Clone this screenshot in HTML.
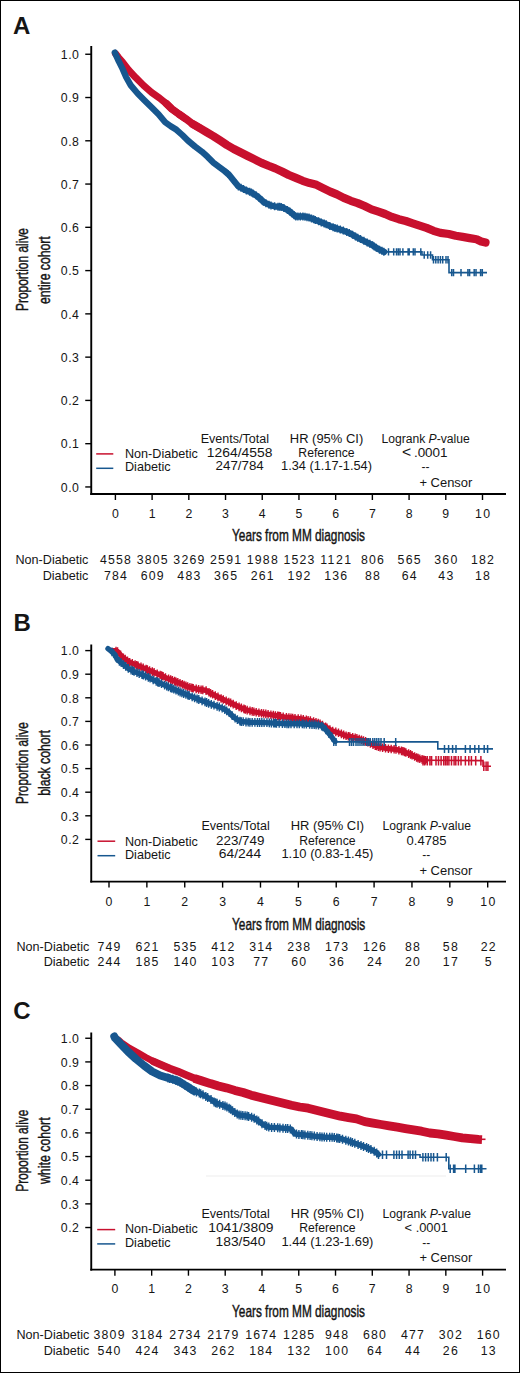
<!DOCTYPE html>
<html><head><meta charset="utf-8"><style>
html,body{margin:0;padding:0;background:#fff;}
body{width:520px;height:1373px;overflow:hidden;position:relative;}
#frame{position:absolute;left:0;top:0;width:520px;height:1373px;box-sizing:border-box;border:1.5px solid #000;}
svg{position:absolute;left:0;top:0;}
svg text{font-family:"Liberation Sans", sans-serif;fill:#151515;}
</style></head><body>
<svg width="520" height="1373" viewBox="0 0 520 1373">
<text x="13.00" y="33.80" font-size="24" font-weight="bold">A</text>
<line x1="91.25" y1="46.00" x2="91.25" y2="494.90" stroke="#000" stroke-width="1.9"/>
<line x1="90.30" y1="494.00" x2="506.00" y2="494.00" stroke="#000" stroke-width="1.8"/>
<line x1="85.25" y1="54.25" x2="91.25" y2="54.25" stroke="#000" stroke-width="1.4"/>
<text x="78.90" y="59.05" font-size="12.3" text-anchor="end" textLength="18.10" lengthAdjust="spacing">1.0</text>
<line x1="85.25" y1="97.52" x2="91.25" y2="97.52" stroke="#000" stroke-width="1.4"/>
<text x="78.90" y="102.32" font-size="12.3" text-anchor="end" textLength="18.10" lengthAdjust="spacing">0.9</text>
<line x1="85.25" y1="140.79" x2="91.25" y2="140.79" stroke="#000" stroke-width="1.4"/>
<text x="78.90" y="145.59" font-size="12.3" text-anchor="end" textLength="18.10" lengthAdjust="spacing">0.8</text>
<line x1="85.25" y1="184.06" x2="91.25" y2="184.06" stroke="#000" stroke-width="1.4"/>
<text x="78.90" y="188.86" font-size="12.3" text-anchor="end" textLength="18.10" lengthAdjust="spacing">0.7</text>
<line x1="85.25" y1="227.33" x2="91.25" y2="227.33" stroke="#000" stroke-width="1.4"/>
<text x="78.90" y="232.13" font-size="12.3" text-anchor="end" textLength="18.10" lengthAdjust="spacing">0.6</text>
<line x1="85.25" y1="270.60" x2="91.25" y2="270.60" stroke="#000" stroke-width="1.4"/>
<text x="78.90" y="275.40" font-size="12.3" text-anchor="end" textLength="18.10" lengthAdjust="spacing">0.5</text>
<line x1="85.25" y1="313.87" x2="91.25" y2="313.87" stroke="#000" stroke-width="1.4"/>
<text x="78.90" y="318.67" font-size="12.3" text-anchor="end" textLength="18.10" lengthAdjust="spacing">0.4</text>
<line x1="85.25" y1="357.14" x2="91.25" y2="357.14" stroke="#000" stroke-width="1.4"/>
<text x="78.90" y="361.94" font-size="12.3" text-anchor="end" textLength="18.10" lengthAdjust="spacing">0.3</text>
<line x1="85.25" y1="400.41" x2="91.25" y2="400.41" stroke="#000" stroke-width="1.4"/>
<text x="78.90" y="405.21" font-size="12.3" text-anchor="end" textLength="18.10" lengthAdjust="spacing">0.2</text>
<line x1="85.25" y1="443.68" x2="91.25" y2="443.68" stroke="#000" stroke-width="1.4"/>
<text x="78.90" y="448.48" font-size="12.3" text-anchor="end" textLength="18.10" lengthAdjust="spacing">0.1</text>
<line x1="85.25" y1="486.95" x2="91.25" y2="486.95" stroke="#000" stroke-width="1.4"/>
<text x="78.90" y="491.75" font-size="12.3" text-anchor="end" textLength="18.10" lengthAdjust="spacing">0.0</text>
<line x1="115.40" y1="494.00" x2="115.40" y2="500.00" stroke="#000" stroke-width="1.4"/>
<text x="115.40" y="517.60" font-size="12.3" text-anchor="middle">0</text>
<line x1="152.11" y1="494.00" x2="152.11" y2="500.00" stroke="#000" stroke-width="1.4"/>
<text x="152.11" y="517.60" font-size="12.3" text-anchor="middle">1</text>
<line x1="188.82" y1="494.00" x2="188.82" y2="500.00" stroke="#000" stroke-width="1.4"/>
<text x="188.82" y="517.60" font-size="12.3" text-anchor="middle">2</text>
<line x1="225.53" y1="494.00" x2="225.53" y2="500.00" stroke="#000" stroke-width="1.4"/>
<text x="225.53" y="517.60" font-size="12.3" text-anchor="middle">3</text>
<line x1="262.24" y1="494.00" x2="262.24" y2="500.00" stroke="#000" stroke-width="1.4"/>
<text x="262.24" y="517.60" font-size="12.3" text-anchor="middle">4</text>
<line x1="298.95" y1="494.00" x2="298.95" y2="500.00" stroke="#000" stroke-width="1.4"/>
<text x="298.95" y="517.60" font-size="12.3" text-anchor="middle">5</text>
<line x1="335.66" y1="494.00" x2="335.66" y2="500.00" stroke="#000" stroke-width="1.4"/>
<text x="335.66" y="517.60" font-size="12.3" text-anchor="middle">6</text>
<line x1="372.37" y1="494.00" x2="372.37" y2="500.00" stroke="#000" stroke-width="1.4"/>
<text x="372.37" y="517.60" font-size="12.3" text-anchor="middle">7</text>
<line x1="409.08" y1="494.00" x2="409.08" y2="500.00" stroke="#000" stroke-width="1.4"/>
<text x="409.08" y="517.60" font-size="12.3" text-anchor="middle">8</text>
<line x1="445.79" y1="494.00" x2="445.79" y2="500.00" stroke="#000" stroke-width="1.4"/>
<text x="445.79" y="517.60" font-size="12.3" text-anchor="middle">9</text>
<line x1="482.50" y1="494.00" x2="482.50" y2="500.00" stroke="#000" stroke-width="1.4"/>
<text x="482.50" y="517.60" font-size="12.3" text-anchor="middle" textLength="15.08" lengthAdjust="spacing">10</text>
<text x="232.00" y="541.30" font-size="17" textLength="133.00" lengthAdjust="spacingAndGlyphs" stroke="#151515" stroke-width="0.45">Years from MM diagnosis</text>
<text transform="translate(28.30,269.50) rotate(-90)" x="0" y="0" font-size="17" text-anchor="middle" textLength="83.00" lengthAdjust="spacingAndGlyphs" stroke="#151515" stroke-width="0.45">Proportion alive</text>
<text transform="translate(50.40,270.20) rotate(-90)" x="0" y="0" font-size="17" text-anchor="middle" textLength="67.60" lengthAdjust="spacingAndGlyphs" stroke="#151515" stroke-width="0.45">entire cohort</text>
<polyline points="115.4,53.5 118.5,57.5 122.7,62.3 128.5,69.8 135.4,77.3 143.5,85.4 151.5,92.3 159.6,98.1 166.5,103.8 171.9,109.0 178.8,114.0 185.8,118.8" fill="none" stroke="#c8102e" stroke-width="7.0" stroke-linejoin="round" stroke-linecap="round"/>
<polyline points="166.5,103.8 171.9,109.0 178.8,114.0 185.8,118.8 192.7,124.0 199.6,128.1" fill="none" stroke="#c8102e" stroke-width="7.6" stroke-linejoin="round" stroke-linecap="round"/>
<polyline points="192.7,124.0 199.6,128.1 206.5,132.1 213.5,136.2 220.2,140.5 226.9,145.0 233.8,149.0 240.8,152.5 247.7,156.0 254.6,159.4 261.5,162.9 268.5,165.8 275.2,168.4 281.9,171.5 288.8,175.0 295.8,177.9 302.7,180.8 309.6,183.1 316.5,184.8 323.5,188.3 330.2,191.6 336.9,194.4 343.8,197.9 350.8,200.8 357.7,203.1 364.6,206.0 371.5,209.4 378.5,211.7 385.2,214.0 391.9,216.9 398.8,219.2 405.8,221.0 412.7,223.3 419.6,225.6 426.5,227.9 433.5,230.8 440.4,232.9 448.8,234.0 455.8,235.8 462.7,236.9 469.6,238.1 476.5,239.2 481.2,241.5 485.5,242.5" fill="none" stroke="#c8102e" stroke-width="8.2" stroke-linejoin="round" stroke-linecap="round"/>
<polyline points="114.8,52.5 118.7,61.2 122.7,69.2 126.2,77.3 130.8,85.4 137.7,93.5 144.6,100.4 151.5,107.3 158.5,114.2 165.2,122.3 170.8,126.3 176.5,129.8 182.3,135.0 188.1,140.8 195.0,146.5 201.9,151.7 207.7,156.9 213.5,162.7 220.2,167.7 224.6,171.0 229.2,175.0 233.8,180.8 238.5,186.5 245.4,190.0 252.3,192.9 258.1,196.9 263.8,202.1 269.6,205.0 276.0,206.7 281.9,206.9 288.8,210.8 295.8,216.5 303.8,216.5 309.6,217.7 315.4,220.0 321.2,222.3 326.9,224.6 331.5,226.8 336.9,228.5 343.8,230.8 350.8,233.7 357.7,237.7 364.6,241.2 371.5,244.6 378.5,249.2 384.2,251.9" fill="none" stroke="#17578f" stroke-width="6.3" stroke-linejoin="round" stroke-linecap="round"/>
<path d="M228.0 170.0V178.0M229.8 171.8V179.8M233.2 176.0V184.0M236.3 179.8V187.8M238.4 182.4V190.4M241.0 183.8V191.8M243.5 185.0V193.0M246.4 186.4V194.4M249.6 187.8V195.8M251.4 188.5V196.5M253.0 189.4V197.4M256.3 191.6V199.6M258.7 193.5V201.5M261.9 196.3V204.3M263.4 197.8V205.8M265.9 199.2V207.2M269.0 200.7V208.7M271.0 201.4V209.4M274.6 202.3V210.3M278.0 202.8V210.8M279.6 202.8V210.8M281.2 202.9V210.9M283.9 204.0V212.0M287.4 206.0V214.0M289.8 207.6V215.6M291.8 209.2V217.2M294.2 211.2V219.2M295.8 212.5V220.5M297.9 212.5V220.5M300.3 212.5V220.5M302.9 212.5V220.5M305.0 212.7V220.7M307.0 213.2V221.2M309.0 213.6V221.6M311.5 214.5V222.5M313.7 215.3V223.3M315.3 216.0V224.0M318.6 217.3V225.3M321.3 218.4V226.4M324.2 219.5V227.5M326.2 220.3V228.3M329.8 222.0V230.0M333.1 223.3V231.3M335.0 223.9V231.9M337.2 224.6V232.6M340.3 225.6V233.6M343.3 226.6V234.6M346.8 228.1V236.1M349.3 229.1V237.1M352.5 230.7V238.7M355.5 232.4V240.4M357.7 233.7V241.7M360.5 235.1V243.1M363.9 236.8V244.8M367.2 238.5V246.5M369.8 239.8V247.8M372.6 241.3V249.3M374.2 242.4V250.4M376.3 243.7V251.7M379.5 245.7V253.7M381.9 246.8V254.8M383.8 247.7V255.7" stroke="#17578f" stroke-width="1.4" fill="none"/>
<polyline points="384.2,251.9 422.0,251.9 422.0,255.0 432.5,255.0 432.5,259.8 449.0,259.8 449.0,272.6 487.0,272.6" fill="none" stroke="#17578f" stroke-width="1.6" stroke-linejoin="miter" stroke-linecap="butt"/>
<path d="M388.5 248.2V255.6M393.7 248.2V255.6M396.5 248.2V255.6M398.3 248.2V255.6M400.0 248.2V255.6M402.9 248.2V255.6M408.1 248.2V255.6M409.2 248.2V255.6M413.3 248.2V255.6M415.0 248.2V255.6M420.8 248.2V255.6M424.2 251.3V258.7M427.7 251.3V258.7M430.6 251.3V258.7M433.5 256.1V263.5M435.8 256.1V263.5M438.1 256.1V263.5M440.4 256.1V263.5M442.7 256.1V263.5M446.0 256.1V263.5M448.0 256.1V263.5M451.7 268.9V276.3M453.5 268.9V276.3M461.0 268.9V276.3M467.9 268.9V276.3M469.6 268.9V276.3M474.2 268.9V276.3M476.0 268.9V276.3M480.6 268.9V276.3M482.3 268.9V276.3" stroke="#17578f" stroke-width="1.5" fill="none"/>
<line x1="96.20" y1="453.90" x2="113.30" y2="453.90" stroke="#c8102e" stroke-width="1.5"/>
<line x1="96.20" y1="468.30" x2="113.30" y2="468.30" stroke="#17578f" stroke-width="1.5"/>
<text x="125.00" y="458.00" font-size="12.4" textLength="72.80" lengthAdjust="spacingAndGlyphs">Non-Diabetic</text>
<text x="125.00" y="471.20" font-size="12.4" textLength="45.60" lengthAdjust="spacingAndGlyphs">Diabetic</text>
<text x="234.80" y="443.00" font-size="12" text-anchor="middle" textLength="68.30" lengthAdjust="spacingAndGlyphs">Events/Total</text>
<text x="239.60" y="456.60" font-size="12" text-anchor="middle" textLength="65.50" lengthAdjust="spacingAndGlyphs">1264/4558</text>
<text x="239.70" y="470.20" font-size="12" text-anchor="middle" textLength="48.20" lengthAdjust="spacingAndGlyphs">247/784</text>
<text x="326.50" y="443.00" font-size="12" text-anchor="middle" textLength="73.40" lengthAdjust="spacingAndGlyphs">HR (95% CI)</text>
<text x="326.50" y="456.60" font-size="12" text-anchor="middle" textLength="56.30" lengthAdjust="spacingAndGlyphs">Reference</text>
<text x="326.50" y="470.20" font-size="12" text-anchor="middle" textLength="90.90" lengthAdjust="spacingAndGlyphs">1.34 (1.17-1.54)</text>
<text x="425.60" y="442.60" font-size="12" text-anchor="middle" textLength="88.40" lengthAdjust="spacingAndGlyphs">Logrank <tspan font-style="italic">P</tspan>-value</text>
<text x="424.80" y="456.60" font-size="12" text-anchor="middle" textLength="45.50" lengthAdjust="spacingAndGlyphs"><tspan font-size="14">&lt;</tspan>&#8201;.0001</text>
<text x="425.40" y="471.20" font-size="12" text-anchor="middle">--</text>
<text x="445.90" y="486.90" font-size="12" text-anchor="middle" textLength="53.00" lengthAdjust="spacingAndGlyphs">+ Censor</text>
<text x="88.30" y="563.60" font-size="12.4" text-anchor="end" textLength="72.80" lengthAdjust="spacingAndGlyphs">Non-Diabetic</text>
<text x="88.30" y="580.20" font-size="12.4" text-anchor="end" textLength="45.60" lengthAdjust="spacingAndGlyphs">Diabetic</text>
<text x="115.40" y="563.60" font-size="12.3" text-anchor="middle" textLength="30.96" lengthAdjust="spacing">4558</text>
<text x="115.40" y="580.20" font-size="12.3" text-anchor="middle" textLength="22.92" lengthAdjust="spacing">784</text>
<text x="152.11" y="563.60" font-size="12.3" text-anchor="middle" textLength="30.96" lengthAdjust="spacing">3805</text>
<text x="152.11" y="580.20" font-size="12.3" text-anchor="middle" textLength="22.92" lengthAdjust="spacing">609</text>
<text x="188.82" y="563.60" font-size="12.3" text-anchor="middle" textLength="30.96" lengthAdjust="spacing">3269</text>
<text x="188.82" y="580.20" font-size="12.3" text-anchor="middle" textLength="22.92" lengthAdjust="spacing">483</text>
<text x="225.53" y="563.60" font-size="12.3" text-anchor="middle" textLength="30.96" lengthAdjust="spacing">2591</text>
<text x="225.53" y="580.20" font-size="12.3" text-anchor="middle" textLength="22.92" lengthAdjust="spacing">365</text>
<text x="262.24" y="563.60" font-size="12.3" text-anchor="middle" textLength="30.96" lengthAdjust="spacing">1988</text>
<text x="262.24" y="580.20" font-size="12.3" text-anchor="middle" textLength="22.92" lengthAdjust="spacing">261</text>
<text x="298.95" y="563.60" font-size="12.3" text-anchor="middle" textLength="30.96" lengthAdjust="spacing">1523</text>
<text x="298.95" y="580.20" font-size="12.3" text-anchor="middle" textLength="22.92" lengthAdjust="spacing">192</text>
<text x="335.66" y="563.60" font-size="12.3" text-anchor="middle" textLength="30.96" lengthAdjust="spacing">1121</text>
<text x="335.66" y="580.20" font-size="12.3" text-anchor="middle" textLength="22.92" lengthAdjust="spacing">136</text>
<text x="372.37" y="563.60" font-size="12.3" text-anchor="middle" textLength="22.92" lengthAdjust="spacing">806</text>
<text x="372.37" y="580.20" font-size="12.3" text-anchor="middle" textLength="14.88" lengthAdjust="spacing">88</text>
<text x="409.08" y="563.60" font-size="12.3" text-anchor="middle" textLength="22.92" lengthAdjust="spacing">565</text>
<text x="409.08" y="580.20" font-size="12.3" text-anchor="middle" textLength="14.88" lengthAdjust="spacing">64</text>
<text x="445.79" y="563.60" font-size="12.3" text-anchor="middle" textLength="22.92" lengthAdjust="spacing">360</text>
<text x="445.79" y="580.20" font-size="12.3" text-anchor="middle" textLength="14.88" lengthAdjust="spacing">43</text>
<text x="482.50" y="563.60" font-size="12.3" text-anchor="middle" textLength="22.92" lengthAdjust="spacing">182</text>
<text x="482.50" y="580.20" font-size="12.3" text-anchor="middle" textLength="14.88" lengthAdjust="spacing">18</text>
<text x="13.60" y="631.30" font-size="24" font-weight="bold">B</text>
<line x1="91.25" y1="644.50" x2="91.25" y2="882.50" stroke="#000" stroke-width="1.9"/>
<line x1="90.30" y1="881.60" x2="506.00" y2="881.60" stroke="#000" stroke-width="1.8"/>
<line x1="85.25" y1="650.60" x2="91.25" y2="650.60" stroke="#000" stroke-width="1.4"/>
<text x="78.90" y="655.40" font-size="12.3" text-anchor="end" textLength="18.10" lengthAdjust="spacing">1.0</text>
<line x1="85.25" y1="674.20" x2="91.25" y2="674.20" stroke="#000" stroke-width="1.4"/>
<text x="78.90" y="679.00" font-size="12.3" text-anchor="end" textLength="18.10" lengthAdjust="spacing">0.9</text>
<line x1="85.25" y1="697.80" x2="91.25" y2="697.80" stroke="#000" stroke-width="1.4"/>
<text x="78.90" y="702.60" font-size="12.3" text-anchor="end" textLength="18.10" lengthAdjust="spacing">0.8</text>
<line x1="85.25" y1="721.40" x2="91.25" y2="721.40" stroke="#000" stroke-width="1.4"/>
<text x="78.90" y="726.20" font-size="12.3" text-anchor="end" textLength="18.10" lengthAdjust="spacing">0.7</text>
<line x1="85.25" y1="745.00" x2="91.25" y2="745.00" stroke="#000" stroke-width="1.4"/>
<text x="78.90" y="749.80" font-size="12.3" text-anchor="end" textLength="18.10" lengthAdjust="spacing">0.6</text>
<line x1="85.25" y1="768.60" x2="91.25" y2="768.60" stroke="#000" stroke-width="1.4"/>
<text x="78.90" y="773.40" font-size="12.3" text-anchor="end" textLength="18.10" lengthAdjust="spacing">0.5</text>
<line x1="85.25" y1="792.20" x2="91.25" y2="792.20" stroke="#000" stroke-width="1.4"/>
<text x="78.90" y="797.00" font-size="12.3" text-anchor="end" textLength="18.10" lengthAdjust="spacing">0.4</text>
<line x1="85.25" y1="815.80" x2="91.25" y2="815.80" stroke="#000" stroke-width="1.4"/>
<text x="78.90" y="820.60" font-size="12.3" text-anchor="end" textLength="18.10" lengthAdjust="spacing">0.3</text>
<line x1="85.25" y1="839.40" x2="91.25" y2="839.40" stroke="#000" stroke-width="1.4"/>
<text x="78.90" y="844.20" font-size="12.3" text-anchor="end" textLength="18.10" lengthAdjust="spacing">0.2</text>
<line x1="109.00" y1="881.60" x2="109.00" y2="887.60" stroke="#000" stroke-width="1.4"/>
<text x="109.00" y="905.60" font-size="12.3" text-anchor="middle">0</text>
<line x1="146.87" y1="881.60" x2="146.87" y2="887.60" stroke="#000" stroke-width="1.4"/>
<text x="146.87" y="905.60" font-size="12.3" text-anchor="middle">1</text>
<line x1="184.74" y1="881.60" x2="184.74" y2="887.60" stroke="#000" stroke-width="1.4"/>
<text x="184.74" y="905.60" font-size="12.3" text-anchor="middle">2</text>
<line x1="222.61" y1="881.60" x2="222.61" y2="887.60" stroke="#000" stroke-width="1.4"/>
<text x="222.61" y="905.60" font-size="12.3" text-anchor="middle">3</text>
<line x1="260.48" y1="881.60" x2="260.48" y2="887.60" stroke="#000" stroke-width="1.4"/>
<text x="260.48" y="905.60" font-size="12.3" text-anchor="middle">4</text>
<line x1="298.35" y1="881.60" x2="298.35" y2="887.60" stroke="#000" stroke-width="1.4"/>
<text x="298.35" y="905.60" font-size="12.3" text-anchor="middle">5</text>
<line x1="336.22" y1="881.60" x2="336.22" y2="887.60" stroke="#000" stroke-width="1.4"/>
<text x="336.22" y="905.60" font-size="12.3" text-anchor="middle">6</text>
<line x1="374.09" y1="881.60" x2="374.09" y2="887.60" stroke="#000" stroke-width="1.4"/>
<text x="374.09" y="905.60" font-size="12.3" text-anchor="middle">7</text>
<line x1="411.96" y1="881.60" x2="411.96" y2="887.60" stroke="#000" stroke-width="1.4"/>
<text x="411.96" y="905.60" font-size="12.3" text-anchor="middle">8</text>
<line x1="449.83" y1="881.60" x2="449.83" y2="887.60" stroke="#000" stroke-width="1.4"/>
<text x="449.83" y="905.60" font-size="12.3" text-anchor="middle">9</text>
<line x1="487.70" y1="881.60" x2="487.70" y2="887.60" stroke="#000" stroke-width="1.4"/>
<text x="487.70" y="905.60" font-size="12.3" text-anchor="middle" textLength="15.08" lengthAdjust="spacing">10</text>
<text x="232.00" y="929.60" font-size="17" textLength="133.30" lengthAdjust="spacingAndGlyphs" stroke="#151515" stroke-width="0.45">Years from MM diagnosis</text>
<text transform="translate(28.30,763.10) rotate(-90)" x="0" y="0" font-size="17" text-anchor="middle" textLength="81.60" lengthAdjust="spacingAndGlyphs" stroke="#151515" stroke-width="0.45">Proportion alive</text>
<text transform="translate(50.40,762.90) rotate(-90)" x="0" y="0" font-size="17" text-anchor="middle" textLength="65.70" lengthAdjust="spacingAndGlyphs" stroke="#151515" stroke-width="0.45">black cohort</text>
<polyline points="111.0,650.6 115.0,650.6 117.5,651.5 122.9,657.5 129.6,662.2 137.7,665.6 145.8,668.9 153.8,672.3 161.9,675.7 167.0,678.3 173.1,680.5 181.2,683.8 189.2,687.2 197.3,689.2 205.4,690.2 210.8,693.3 216.1,696.0 224.2,700.0 231.0,703.0 238.1,706.5 246.2,709.9 254.2,711.9 262.3,713.3 270.4,714.6 278.5,716.0 286.5,717.3 294.8,718.2 303.1,719.2 311.2,720.8 319.2,723.3 326.0,727.0 331.3,730.5 339.0,733.0 346.1,735.8 352.0,737.0 358.8,738.8 368.5,742.5 375.0,745.5 381.9,747.7 388.8,748.8 395.8,749.4 402.7,751.2 409.6,754.0 416.5,757.5 421.2,759.2 426.0,760.3" fill="none" stroke="#c8102e" stroke-width="5.4" stroke-linejoin="round" stroke-linecap="round"/>
<path d="M116.0 646.7V655.3M117.6 647.3V655.9M120.6 650.6V659.2M123.4 653.5V662.1M125.2 654.8V663.4M127.5 656.4V665.0M129.7 657.9V666.5M132.3 659.0V667.6M135.1 660.2V668.8M136.7 660.9V669.5M138.1 661.5V670.1M141.0 662.6V671.2M143.2 663.5V672.1M146.0 664.7V673.3M147.4 665.3V673.9M149.6 666.2V674.8M152.3 667.3V675.9M154.1 668.1V676.7M157.2 669.4V678.0M160.2 670.7V679.3M161.7 671.3V679.9M163.1 672.0V680.6M165.5 673.2V681.8M168.6 674.6V683.2M170.7 675.3V683.9M172.4 676.0V684.6M174.6 676.8V685.4M176.0 677.4V686.0M177.8 678.1V686.7M180.0 679.0V687.6M182.3 680.0V688.6M184.1 680.7V689.3M185.9 681.5V690.1M187.7 682.3V690.9M189.9 683.1V691.7M191.8 683.5V692.1M193.2 683.9V692.5M196.2 684.6V693.2M198.6 685.1V693.7M201.1 685.4V694.0M202.8 685.6V694.2M206.1 686.3V694.9M209.0 688.0V696.6M210.6 688.9V697.5M212.6 689.9V698.5M215.3 691.3V699.9M218.0 692.6V701.2M221.1 694.2V702.8M223.3 695.2V703.8M226.2 696.6V705.2M228.8 697.7V706.3M230.7 698.6V707.2M233.2 699.8V708.4M236.2 701.3V709.9M239.1 702.6V711.2M241.4 703.6V712.2M243.9 704.6V713.2M245.3 705.2V713.8M247.2 705.8V714.4M250.0 706.6V715.2M252.2 707.1V715.7M253.9 707.5V716.1M256.2 708.0V716.6M258.9 708.4V717.0M261.5 708.9V717.5M263.6 709.2V717.8M265.8 709.6V718.2M268.1 709.9V718.5M270.9 710.4V719.0M273.3 710.8V719.4M275.4 711.2V719.8M277.7 711.6V720.2M279.1 711.8V720.4M280.5 712.0V720.6M283.2 712.5V721.1M286.4 713.0V721.6M288.9 713.3V721.9M291.0 713.5V722.1M292.7 713.7V722.3M295.0 713.9V722.5M298.2 714.3V722.9M301.0 714.6V723.2M303.3 714.9V723.5M306.3 715.5V724.1M308.1 715.9V724.5M310.4 716.3V724.9M313.6 717.2V725.8M316.0 718.0V726.6M318.2 718.7V727.3M320.1 719.5V728.1M322.5 720.8V729.4M325.6 722.5V731.1M327.0 723.4V732.0M329.9 725.2V733.8M332.7 726.7V735.3M335.8 727.6V736.2M338.5 728.5V737.1M341.4 729.6V738.2M343.7 730.6V739.2M346.1 731.5V740.1M348.3 731.9V740.5M349.8 732.2V740.8M352.7 732.9V741.5M355.2 733.5V742.1M356.9 734.0V742.6M359.2 734.7V743.3M361.5 735.5V744.1M363.5 736.3V744.9M365.6 737.1V745.7M367.9 738.0V746.6M370.4 739.1V747.7M373.0 740.3V748.9M375.2 741.3V749.9M376.6 741.7V750.3M378.4 742.3V750.9M380.1 742.8V751.4M382.6 743.5V752.1M385.5 744.0V752.6M388.4 744.4V753.0M391.2 744.7V753.3M394.1 745.0V753.6M396.0 745.1V753.7M398.9 745.9V754.5M401.5 746.6V755.2M403.0 747.0V755.6M404.5 747.6V756.2M405.9 748.2V756.8M408.6 749.3V757.9M410.5 750.1V758.7M412.1 750.9V759.5M414.6 752.2V760.8M416.6 753.2V761.8M418.1 753.8V762.4M419.8 754.4V763.0M422.1 755.1V763.7M423.8 755.5V764.1M425.7 755.9V764.5" stroke="#c8102e" stroke-width="1.4" fill="none"/>
<polyline points="426.0,760.3 483.0,760.6 483.0,766.2 491.0,766.2" fill="none" stroke="#c8102e" stroke-width="1.6" stroke-linejoin="miter" stroke-linecap="butt"/>
<path d="M423.0 755.9V765.4M424.7 755.9V765.4M427.3 755.9V765.4M429.9 755.9V765.4M431.6 755.9V765.4M436.0 755.9V765.4M438.5 755.9V765.4M441.1 755.9V765.4M443.7 755.9V765.4M445.5 755.9V765.4M447.2 755.9V765.4M448.9 755.9V765.4M451.5 755.9V765.4M454.1 755.9V765.4M455.8 755.9V765.4M458.4 755.9V765.4M461.0 755.9V765.4M465.4 755.9V765.4M468.8 755.9V765.4M471.4 755.9V765.4M475.7 755.9V765.4M480.9 755.9V765.4M483.8 761.5V771.0M486.1 761.5V771.0M487.9 761.5V771.0" stroke="#c8102e" stroke-width="1.5" fill="none"/>
<polyline points="108.0,648.6 111.0,651.0 114.8,654.5 117.3,659.6 123.0,664.2 128.8,668.8 134.6,671.7 146.2,676.3 157.7,682.0 170.0,687.5 180.0,692.0 190.0,696.0 200.0,700.0 210.0,703.8 222.0,708.0 228.0,711.5 234.0,717.5 240.4,721.5 250.0,722.3 265.0,722.6 286.0,723.8 300.0,723.8 311.2,724.5 319.2,725.0 323.5,727.0 326.0,730.0 331.0,736.0 335.0,741.5" fill="none" stroke="#17578f" stroke-width="5.4" stroke-linejoin="round" stroke-linecap="round"/>
<path d="M112.0 647.5V656.3M113.6 649.0V657.8M116.6 653.7V662.5M119.4 656.9V665.7M121.2 658.3V667.1M123.5 660.2V669.0M125.7 661.9V670.7M128.3 664.0V672.8M131.1 665.6V674.4M132.7 666.3V675.1M134.1 667.0V675.8M137.0 668.3V677.1M139.2 669.1V677.9M142.0 670.2V679.0M143.4 670.8V679.6M145.6 671.6V680.4M148.3 672.9V681.7M150.1 673.8V682.6M153.2 675.4V684.2M156.2 676.9V685.7M157.7 677.6V686.4M159.1 678.2V687.0M161.5 679.3V688.1M164.6 680.7V689.5M166.7 681.6V690.4M168.4 682.4V691.2M170.6 683.4V692.2M172.0 684.0V692.8M173.8 684.8V693.6M176.0 685.8V694.6M178.3 686.8V695.6M180.1 687.6V696.4M181.9 688.4V697.2M183.7 689.1V697.9M185.9 690.0V698.8M187.8 690.7V699.5M189.2 691.3V700.1M192.2 692.5V701.3M194.6 693.4V702.2M197.1 694.5V703.3M198.8 695.1V703.9M202.1 696.4V705.2M205.0 697.5V706.3M206.6 698.1V706.9M208.6 698.9V707.7M211.3 699.9V708.7M214.0 700.8V709.6M217.1 701.9V710.7M219.3 702.6V711.4M222.2 703.7V712.5M224.8 705.2V714.0M226.7 706.4V715.2M229.2 708.3V717.1M232.2 711.3V720.1M235.1 713.8V722.6M237.4 715.2V724.0M239.9 716.8V725.6M241.3 717.2V726.0M243.2 717.3V726.1M246.0 717.6V726.4M248.2 717.7V726.5M249.9 717.9V726.7M252.2 717.9V726.7M254.9 718.0V726.8M257.5 718.1V726.9M259.6 718.1V726.9M261.8 718.1V726.9M264.1 718.2V727.0M266.9 718.3V727.1M269.3 718.4V727.2M271.4 718.6V727.4M273.7 718.7V727.5M275.1 718.8V727.6M276.5 718.9V727.7M279.2 719.0V727.8M282.4 719.2V728.0M284.9 719.3V728.1M287.0 719.4V728.2M288.7 719.4V728.2M291.0 719.4V728.2M294.2 719.4V728.2M297.0 719.4V728.2M299.3 719.4V728.2M302.3 719.5V728.3M304.1 719.7V728.5M306.4 719.8V728.6M309.6 720.0V728.8M312.0 720.2V729.0M314.2 720.3V729.1M316.1 720.4V729.2M318.5 720.6V729.4M321.6 721.7V730.5M323.0 722.4V731.2M325.9 725.4V734.2M328.7 728.9V737.7M331.8 732.6V741.4" stroke="#17578f" stroke-width="1.4" fill="none"/>
<polyline points="335.0,741.5 336.0,741.9 437.8,741.9 437.8,748.9 493.0,748.9" fill="none" stroke="#17578f" stroke-width="1.6" stroke-linejoin="miter" stroke-linecap="butt"/>
<path d="M333.8 737.9V745.9M336.0 737.9V745.9M349.5 737.9V745.9M351.5 737.9V745.9M353.5 737.9V745.9M356.0 737.9V745.9M358.0 737.9V745.9M360.0 737.9V745.9M362.0 737.9V745.9M364.0 737.9V745.9M366.7 737.9V745.9M368.5 737.9V745.9M370.2 737.9V745.9M372.8 737.9V745.9M374.8 737.9V745.9M376.8 737.9V745.9M378.8 737.9V745.9M381.0 737.9V745.9M384.2 737.9V745.9M395.7 737.9V745.9M444.5 744.9V752.9M448.6 744.9V752.9M452.6 744.9V752.9M456.0 744.9V752.9M465.4 744.9V752.9M470.1 744.9V752.9M474.8 744.9V752.9M478.8 744.9V752.9M484.2 744.9V752.9M487.6 744.9V752.9" stroke="#17578f" stroke-width="1.5" fill="none"/>
<line x1="97.50" y1="841.20" x2="115.20" y2="841.20" stroke="#c8102e" stroke-width="1.5"/>
<line x1="97.50" y1="855.70" x2="115.20" y2="855.70" stroke="#17578f" stroke-width="1.5"/>
<text x="125.00" y="846.10" font-size="12.4" textLength="72.80" lengthAdjust="spacingAndGlyphs">Non-Diabetic</text>
<text x="125.00" y="859.00" font-size="12.4" textLength="45.60" lengthAdjust="spacingAndGlyphs">Diabetic</text>
<text x="235.60" y="830.00" font-size="12" text-anchor="middle" textLength="68.30" lengthAdjust="spacingAndGlyphs">Events/Total</text>
<text x="240.25" y="844.70" font-size="12" text-anchor="middle" textLength="48.40" lengthAdjust="spacingAndGlyphs">223/749</text>
<text x="240.00" y="858.00" font-size="12" text-anchor="middle" textLength="42.40" lengthAdjust="spacingAndGlyphs">64/244</text>
<text x="327.40" y="830.00" font-size="12" text-anchor="middle" textLength="73.40" lengthAdjust="spacingAndGlyphs">HR (95% CI)</text>
<text x="327.40" y="844.70" font-size="12" text-anchor="middle" textLength="56.30" lengthAdjust="spacingAndGlyphs">Reference</text>
<text x="327.40" y="858.00" font-size="12" text-anchor="middle" textLength="92.00" lengthAdjust="spacingAndGlyphs">1.10 (0.83-1.45)</text>
<text x="426.70" y="829.60" font-size="12" text-anchor="middle" textLength="88.40" lengthAdjust="spacingAndGlyphs">Logrank <tspan font-style="italic">P</tspan>-value</text>
<text x="426.50" y="844.70" font-size="12" text-anchor="middle" textLength="39.80" lengthAdjust="spacingAndGlyphs">0.4785</text>
<text x="426.30" y="859.00" font-size="12" text-anchor="middle">--</text>
<text x="445.90" y="874.60" font-size="12" text-anchor="middle" textLength="53.00" lengthAdjust="spacingAndGlyphs">+ Censor</text>
<text x="89.30" y="950.50" font-size="12.4" text-anchor="end" textLength="72.80" lengthAdjust="spacingAndGlyphs">Non-Diabetic</text>
<text x="89.30" y="966.30" font-size="12.4" text-anchor="end" textLength="45.60" lengthAdjust="spacingAndGlyphs">Diabetic</text>
<text x="109.00" y="950.50" font-size="12.3" text-anchor="middle" textLength="22.92" lengthAdjust="spacing">749</text>
<text x="109.00" y="966.30" font-size="12.3" text-anchor="middle" textLength="22.92" lengthAdjust="spacing">244</text>
<text x="146.92" y="950.50" font-size="12.3" text-anchor="middle" textLength="22.92" lengthAdjust="spacing">621</text>
<text x="146.92" y="966.30" font-size="12.3" text-anchor="middle" textLength="22.92" lengthAdjust="spacing">185</text>
<text x="184.84" y="950.50" font-size="12.3" text-anchor="middle" textLength="22.92" lengthAdjust="spacing">535</text>
<text x="184.84" y="966.30" font-size="12.3" text-anchor="middle" textLength="22.92" lengthAdjust="spacing">140</text>
<text x="222.76" y="950.50" font-size="12.3" text-anchor="middle" textLength="22.92" lengthAdjust="spacing">412</text>
<text x="222.76" y="966.30" font-size="12.3" text-anchor="middle" textLength="22.92" lengthAdjust="spacing">103</text>
<text x="260.68" y="950.50" font-size="12.3" text-anchor="middle" textLength="22.92" lengthAdjust="spacing">314</text>
<text x="260.68" y="966.30" font-size="12.3" text-anchor="middle" textLength="14.88" lengthAdjust="spacing">77</text>
<text x="298.60" y="950.50" font-size="12.3" text-anchor="middle" textLength="22.92" lengthAdjust="spacing">238</text>
<text x="298.60" y="966.30" font-size="12.3" text-anchor="middle" textLength="14.88" lengthAdjust="spacing">60</text>
<text x="336.52" y="950.50" font-size="12.3" text-anchor="middle" textLength="22.92" lengthAdjust="spacing">173</text>
<text x="336.52" y="966.30" font-size="12.3" text-anchor="middle" textLength="14.88" lengthAdjust="spacing">36</text>
<text x="374.44" y="950.50" font-size="12.3" text-anchor="middle" textLength="22.92" lengthAdjust="spacing">126</text>
<text x="374.44" y="966.30" font-size="12.3" text-anchor="middle" textLength="14.88" lengthAdjust="spacing">24</text>
<text x="412.36" y="950.50" font-size="12.3" text-anchor="middle" textLength="14.88" lengthAdjust="spacing">88</text>
<text x="412.36" y="966.30" font-size="12.3" text-anchor="middle" textLength="14.88" lengthAdjust="spacing">20</text>
<text x="450.28" y="950.50" font-size="12.3" text-anchor="middle" textLength="14.88" lengthAdjust="spacing">58</text>
<text x="450.28" y="966.30" font-size="12.3" text-anchor="middle" textLength="14.88" lengthAdjust="spacing">17</text>
<text x="488.20" y="950.50" font-size="12.3" text-anchor="middle" textLength="14.88" lengthAdjust="spacing">22</text>
<text x="488.20" y="966.30" font-size="12.3" text-anchor="middle">5</text>
<text x="13.30" y="1019.00" font-size="24" font-weight="bold">C</text>
<line x1="91.25" y1="1032.50" x2="91.25" y2="1270.60" stroke="#000" stroke-width="1.9"/>
<line x1="90.30" y1="1269.70" x2="506.00" y2="1269.70" stroke="#000" stroke-width="1.8"/>
<line x1="85.25" y1="1038.25" x2="91.25" y2="1038.25" stroke="#000" stroke-width="1.4"/>
<text x="78.90" y="1043.05" font-size="12.3" text-anchor="end" textLength="18.10" lengthAdjust="spacing">1.0</text>
<line x1="85.25" y1="1061.91" x2="91.25" y2="1061.91" stroke="#000" stroke-width="1.4"/>
<text x="78.90" y="1066.71" font-size="12.3" text-anchor="end" textLength="18.10" lengthAdjust="spacing">0.9</text>
<line x1="85.25" y1="1085.57" x2="91.25" y2="1085.57" stroke="#000" stroke-width="1.4"/>
<text x="78.90" y="1090.37" font-size="12.3" text-anchor="end" textLength="18.10" lengthAdjust="spacing">0.8</text>
<line x1="85.25" y1="1109.23" x2="91.25" y2="1109.23" stroke="#000" stroke-width="1.4"/>
<text x="78.90" y="1114.03" font-size="12.3" text-anchor="end" textLength="18.10" lengthAdjust="spacing">0.7</text>
<line x1="85.25" y1="1132.89" x2="91.25" y2="1132.89" stroke="#000" stroke-width="1.4"/>
<text x="78.90" y="1137.69" font-size="12.3" text-anchor="end" textLength="18.10" lengthAdjust="spacing">0.6</text>
<line x1="85.25" y1="1156.55" x2="91.25" y2="1156.55" stroke="#000" stroke-width="1.4"/>
<text x="78.90" y="1161.35" font-size="12.3" text-anchor="end" textLength="18.10" lengthAdjust="spacing">0.5</text>
<line x1="85.25" y1="1180.21" x2="91.25" y2="1180.21" stroke="#000" stroke-width="1.4"/>
<text x="78.90" y="1185.01" font-size="12.3" text-anchor="end" textLength="18.10" lengthAdjust="spacing">0.4</text>
<line x1="85.25" y1="1203.87" x2="91.25" y2="1203.87" stroke="#000" stroke-width="1.4"/>
<text x="78.90" y="1208.67" font-size="12.3" text-anchor="end" textLength="18.10" lengthAdjust="spacing">0.3</text>
<line x1="85.25" y1="1227.53" x2="91.25" y2="1227.53" stroke="#000" stroke-width="1.4"/>
<text x="78.90" y="1232.33" font-size="12.3" text-anchor="end" textLength="18.10" lengthAdjust="spacing">0.2</text>
<line x1="114.90" y1="1269.70" x2="114.90" y2="1275.70" stroke="#000" stroke-width="1.4"/>
<text x="114.90" y="1293.20" font-size="12.3" text-anchor="middle">0</text>
<line x1="151.67" y1="1269.70" x2="151.67" y2="1275.70" stroke="#000" stroke-width="1.4"/>
<text x="151.67" y="1293.20" font-size="12.3" text-anchor="middle">1</text>
<line x1="188.44" y1="1269.70" x2="188.44" y2="1275.70" stroke="#000" stroke-width="1.4"/>
<text x="188.44" y="1293.20" font-size="12.3" text-anchor="middle">2</text>
<line x1="225.21" y1="1269.70" x2="225.21" y2="1275.70" stroke="#000" stroke-width="1.4"/>
<text x="225.21" y="1293.20" font-size="12.3" text-anchor="middle">3</text>
<line x1="261.98" y1="1269.70" x2="261.98" y2="1275.70" stroke="#000" stroke-width="1.4"/>
<text x="261.98" y="1293.20" font-size="12.3" text-anchor="middle">4</text>
<line x1="298.75" y1="1269.70" x2="298.75" y2="1275.70" stroke="#000" stroke-width="1.4"/>
<text x="298.75" y="1293.20" font-size="12.3" text-anchor="middle">5</text>
<line x1="335.52" y1="1269.70" x2="335.52" y2="1275.70" stroke="#000" stroke-width="1.4"/>
<text x="335.52" y="1293.20" font-size="12.3" text-anchor="middle">6</text>
<line x1="372.29" y1="1269.70" x2="372.29" y2="1275.70" stroke="#000" stroke-width="1.4"/>
<text x="372.29" y="1293.20" font-size="12.3" text-anchor="middle">7</text>
<line x1="409.06" y1="1269.70" x2="409.06" y2="1275.70" stroke="#000" stroke-width="1.4"/>
<text x="409.06" y="1293.20" font-size="12.3" text-anchor="middle">8</text>
<line x1="445.83" y1="1269.70" x2="445.83" y2="1275.70" stroke="#000" stroke-width="1.4"/>
<text x="445.83" y="1293.20" font-size="12.3" text-anchor="middle">9</text>
<line x1="482.60" y1="1269.70" x2="482.60" y2="1275.70" stroke="#000" stroke-width="1.4"/>
<text x="482.60" y="1293.20" font-size="12.3" text-anchor="middle" textLength="15.08" lengthAdjust="spacing">10</text>
<text x="232.00" y="1317.20" font-size="17" textLength="133.00" lengthAdjust="spacingAndGlyphs" stroke="#151515" stroke-width="0.45">Years from MM diagnosis</text>
<text transform="translate(28.30,1150.70) rotate(-90)" x="0" y="0" font-size="17" text-anchor="middle" textLength="81.90" lengthAdjust="spacingAndGlyphs" stroke="#151515" stroke-width="0.45">Proportion alive</text>
<text transform="translate(50.40,1150.75) rotate(-90)" x="0" y="0" font-size="17" text-anchor="middle" textLength="66.70" lengthAdjust="spacingAndGlyphs" stroke="#151515" stroke-width="0.45">white cohort</text>
<line x1="206" y1="1176" x2="446" y2="1176" stroke="#eeeeee" stroke-width="1.2"/>
<polyline points="118.5,1040.0 121.2,1042.5 129.2,1048.0 137.3,1052.5 145.4,1057.2 153.5,1061.5 161.5,1065.0 169.8,1068.5" fill="none" stroke="#c8102e" stroke-width="6.6" stroke-linejoin="round" stroke-linecap="round"/>
<polyline points="153.5,1061.5 161.5,1065.0 169.8,1068.5 178.1,1071.6 186.2,1074.9 194.2,1078.3 202.3,1081.0" fill="none" stroke="#c8102e" stroke-width="7.6" stroke-linejoin="round" stroke-linecap="round"/>
<polyline points="194.2,1078.3 202.3,1081.0 210.4,1083.6 218.5,1085.9 226.5,1087.9 234.8,1090.4 243.1,1092.5 251.2,1095.2 259.2,1097.2 267.3,1099.2 275.4,1101.2 283.5,1103.3 291.5,1105.3 299.8,1107.0 308.1,1108.2 316.2,1110.2 324.2,1112.2 332.3,1114.2 340.4,1116.2 348.5,1117.6 356.5,1118.9 364.8,1121.7 373.1,1123.2 381.2,1124.5 389.2,1125.9 397.3,1127.2 405.4,1128.6 413.5,1129.9 421.5,1131.2 429.8,1133.0 438.1,1133.8 446.2,1135.2 454.2,1136.5 462.3,1137.9 470.4,1138.6 478.5,1139.4 482.0,1139.6" fill="none" stroke="#c8102e" stroke-width="8.8" stroke-linejoin="round" stroke-linecap="butt"/>
<polyline points="482.0,1139.3 485.5,1139.3" fill="none" stroke="#c8102e" stroke-width="1.6" stroke-linejoin="miter" stroke-linecap="butt"/>
<polyline points="114.3,1036.5 115.1,1038.1 121.2,1044.5 127.9,1051.5 136.0,1059.0 144.0,1065.5 152.1,1071.5 160.2,1075.5 168.3,1078.0 175.0,1080.0 180.0,1082.0 186.2,1086.0 194.2,1091.0" fill="none" stroke="#17578f" stroke-width="8.0" stroke-linejoin="round" stroke-linecap="round"/>
<polyline points="194.2,1091.0 202.3,1094.4 210.4,1099.1 215.0,1102.5 219.8,1104.4 224.6,1105.9 229.4,1108.3 234.2,1112.1 239.0,1115.0 243.8,1115.5 248.7,1116.4 253.5,1117.9 258.3,1120.8 263.1,1124.6 266.0,1126.0 270.0,1127.3 275.4,1127.5 283.5,1128.2 291.0,1129.0 295.0,1134.0 308.1,1135.2 316.2,1136.4 324.2,1137.1 332.3,1137.3 340.4,1138.5 348.5,1141.1 356.5,1143.8 364.8,1146.9 370.4,1149.2 375.8,1152.1 378.5,1154.5" fill="none" stroke="#17578f" stroke-width="5.6" stroke-linejoin="round" stroke-linecap="round"/>
<path d="M168.0 1073.4V1082.4M169.7 1073.9V1082.9M172.8 1074.8V1083.8M175.7 1075.8V1084.8M177.6 1076.5V1085.5M180.0 1077.5V1086.5M182.3 1079.0V1088.0M185.0 1080.7V1089.7M187.9 1082.6V1091.6M189.6 1083.6V1092.6M191.1 1084.5V1093.5M194.1 1086.4V1095.4M196.4 1087.4V1096.4M199.3 1088.6V1097.6M200.7 1089.2V1098.2M203.0 1090.3V1099.3M205.8 1092.0V1101.0M207.7 1093.0V1102.0M211.0 1095.0V1104.0M214.1 1097.4V1106.4M215.6 1098.3V1107.3M217.1 1098.8V1107.8M219.6 1099.8V1108.8M222.9 1100.9V1109.9M225.0 1101.6V1110.6M226.9 1102.5V1111.5M229.1 1103.7V1112.7M230.6 1104.8V1113.8M232.5 1106.2V1115.2M234.8 1107.9V1116.9M237.2 1109.4V1118.4M239.1 1110.5V1119.5M240.9 1110.7V1119.7M242.8 1110.9V1119.9M245.1 1111.2V1120.2M247.1 1111.6V1120.6M248.6 1111.9V1120.9M251.6 1112.8V1121.8M254.2 1113.8V1122.8M256.8 1115.4V1124.4M258.6 1116.6V1125.6M262.0 1119.2V1128.2M265.1 1121.0V1130.0M266.7 1121.7V1130.7M268.8 1122.4V1131.4M271.6 1122.9V1131.9M274.4 1123.0V1132.0M277.7 1123.2V1132.2M279.9 1123.4V1132.4M283.0 1123.7V1132.7M285.7 1123.9V1132.9M287.7 1124.1V1133.1M290.3 1124.4V1133.4M293.4 1127.5V1136.5M296.5 1129.6V1138.6M298.9 1129.9V1138.9M301.5 1130.1V1139.1M303.0 1130.2V1139.2M304.9 1130.4V1139.4M307.8 1130.7V1139.7M310.1 1131.0V1140.0M311.9 1131.3V1140.3M314.3 1131.6V1140.6M317.1 1132.0V1141.0M319.9 1132.2V1141.2M322.0 1132.4V1141.4M324.3 1132.6V1141.6M326.7 1132.7V1141.7M329.7 1132.7V1141.7M332.1 1132.8V1141.8M334.3 1133.1V1142.1M336.7 1133.4V1142.4M338.2 1133.7V1142.7M339.7 1133.9V1142.9M342.5 1134.7V1143.7M345.8 1135.7V1144.7M348.4 1136.6V1145.6M350.6 1137.3V1146.3M352.4 1137.9V1146.9M354.8 1138.7V1147.7M358.1 1139.9V1148.9M361.0 1141.0V1150.0M363.5 1141.9V1150.9M366.6 1143.1V1152.1M368.5 1143.9V1152.9M370.9 1145.0V1154.0M374.2 1146.7V1155.7M376.7 1148.4V1157.4" stroke="#17578f" stroke-width="1.4" fill="none"/>
<polyline points="378.5,1154.8 420.0,1154.8 420.0,1157.2 448.8,1157.2 448.8,1168.8 486.5,1168.8" fill="none" stroke="#17578f" stroke-width="1.6" stroke-linejoin="miter" stroke-linecap="butt"/>
<path d="M378.5 1150.5V1159.1M382.5 1150.5V1159.1M386.5 1150.5V1159.1M393.9 1150.5V1159.1M396.6 1150.5V1159.1M399.3 1150.5V1159.1M402.0 1150.5V1159.1M408.1 1150.5V1159.1M410.1 1150.5V1159.1M412.8 1150.5V1159.1M415.5 1150.5V1159.1M422.9 1152.9V1161.5M425.6 1152.9V1161.5M428.3 1152.9V1161.5M431.0 1152.9V1161.5M433.6 1152.9V1161.5M437.4 1152.9V1161.5M446.2 1152.9V1161.5M450.2 1164.5V1173.1M453.6 1164.5V1173.1M454.9 1164.5V1173.1M465.7 1164.5V1173.1M474.4 1164.5V1173.1M478.5 1164.5V1173.1M480.5 1164.5V1173.1M481.8 1164.5V1173.1" stroke="#17578f" stroke-width="1.5" fill="none"/>
<line x1="97.20" y1="1229.60" x2="115.20" y2="1229.60" stroke="#c8102e" stroke-width="1.5"/>
<line x1="97.20" y1="1243.90" x2="115.20" y2="1243.90" stroke="#17578f" stroke-width="1.5"/>
<text x="125.00" y="1233.40" font-size="12.4" textLength="72.80" lengthAdjust="spacingAndGlyphs">Non-Diabetic</text>
<text x="125.00" y="1247.20" font-size="12.4" textLength="45.60" lengthAdjust="spacingAndGlyphs">Diabetic</text>
<text x="235.60" y="1218.00" font-size="12" text-anchor="middle" textLength="68.30" lengthAdjust="spacingAndGlyphs">Events/Total</text>
<text x="240.90" y="1232.00" font-size="12" text-anchor="middle" textLength="65.30" lengthAdjust="spacingAndGlyphs">1041/3809</text>
<text x="240.50" y="1246.20" font-size="12" text-anchor="middle" textLength="49.80" lengthAdjust="spacingAndGlyphs">183/540</text>
<text x="327.40" y="1218.00" font-size="12" text-anchor="middle" textLength="73.40" lengthAdjust="spacingAndGlyphs">HR (95% CI)</text>
<text x="327.40" y="1232.00" font-size="12" text-anchor="middle" textLength="56.30" lengthAdjust="spacingAndGlyphs">Reference</text>
<text x="327.40" y="1246.20" font-size="12" text-anchor="middle" textLength="92.00" lengthAdjust="spacingAndGlyphs">1.44 (1.23-1.69)</text>
<text x="426.70" y="1217.60" font-size="12" text-anchor="middle" textLength="88.40" lengthAdjust="spacingAndGlyphs">Logrank <tspan font-style="italic">P</tspan>-value</text>
<text x="426.20" y="1232.00" font-size="12" text-anchor="middle" textLength="43.30" lengthAdjust="spacingAndGlyphs">&lt; .0001</text>
<text x="426.30" y="1247.20" font-size="12" text-anchor="middle">--</text>
<text x="445.90" y="1262.40" font-size="12" text-anchor="middle" textLength="53.00" lengthAdjust="spacingAndGlyphs">+ Censor</text>
<text x="89.30" y="1338.80" font-size="12.4" text-anchor="end" textLength="72.80" lengthAdjust="spacingAndGlyphs">Non-Diabetic</text>
<text x="89.30" y="1355.00" font-size="12.4" text-anchor="end" textLength="45.60" lengthAdjust="spacingAndGlyphs">Diabetic</text>
<text x="109.00" y="1338.80" font-size="12.3" text-anchor="middle" textLength="30.96" lengthAdjust="spacing">3809</text>
<text x="109.00" y="1355.00" font-size="12.3" text-anchor="middle" textLength="22.92" lengthAdjust="spacing">540</text>
<text x="146.92" y="1338.80" font-size="12.3" text-anchor="middle" textLength="30.96" lengthAdjust="spacing">3184</text>
<text x="146.92" y="1355.00" font-size="12.3" text-anchor="middle" textLength="22.92" lengthAdjust="spacing">424</text>
<text x="184.84" y="1338.80" font-size="12.3" text-anchor="middle" textLength="30.96" lengthAdjust="spacing">2734</text>
<text x="184.84" y="1355.00" font-size="12.3" text-anchor="middle" textLength="22.92" lengthAdjust="spacing">343</text>
<text x="222.76" y="1338.80" font-size="12.3" text-anchor="middle" textLength="30.96" lengthAdjust="spacing">2179</text>
<text x="222.76" y="1355.00" font-size="12.3" text-anchor="middle" textLength="22.92" lengthAdjust="spacing">262</text>
<text x="260.68" y="1338.80" font-size="12.3" text-anchor="middle" textLength="30.96" lengthAdjust="spacing">1674</text>
<text x="260.68" y="1355.00" font-size="12.3" text-anchor="middle" textLength="22.92" lengthAdjust="spacing">184</text>
<text x="298.60" y="1338.80" font-size="12.3" text-anchor="middle" textLength="30.96" lengthAdjust="spacing">1285</text>
<text x="298.60" y="1355.00" font-size="12.3" text-anchor="middle" textLength="22.92" lengthAdjust="spacing">132</text>
<text x="336.52" y="1338.80" font-size="12.3" text-anchor="middle" textLength="22.92" lengthAdjust="spacing">948</text>
<text x="336.52" y="1355.00" font-size="12.3" text-anchor="middle" textLength="22.92" lengthAdjust="spacing">100</text>
<text x="374.44" y="1338.80" font-size="12.3" text-anchor="middle" textLength="22.92" lengthAdjust="spacing">680</text>
<text x="374.44" y="1355.00" font-size="12.3" text-anchor="middle" textLength="14.88" lengthAdjust="spacing">64</text>
<text x="412.36" y="1338.80" font-size="12.3" text-anchor="middle" textLength="22.92" lengthAdjust="spacing">477</text>
<text x="412.36" y="1355.00" font-size="12.3" text-anchor="middle" textLength="14.88" lengthAdjust="spacing">44</text>
<text x="450.28" y="1338.80" font-size="12.3" text-anchor="middle" textLength="22.92" lengthAdjust="spacing">302</text>
<text x="450.28" y="1355.00" font-size="12.3" text-anchor="middle" textLength="14.88" lengthAdjust="spacing">26</text>
<text x="488.20" y="1338.80" font-size="12.3" text-anchor="middle" textLength="22.92" lengthAdjust="spacing">160</text>
<text x="488.20" y="1355.00" font-size="12.3" text-anchor="middle" textLength="14.88" lengthAdjust="spacing">13</text>
</svg>
<div id="frame"></div>
</body></html>
